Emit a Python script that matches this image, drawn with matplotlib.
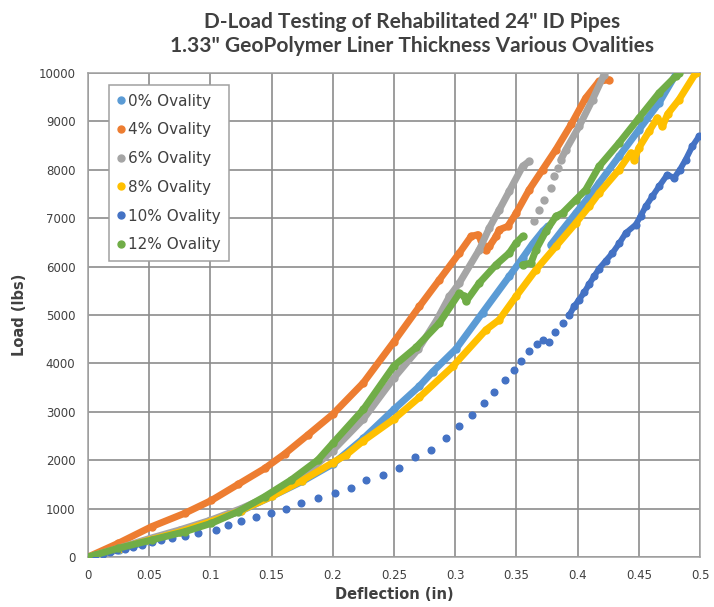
#!/usr/bin/env python3
#
# D-load test curves for rehabilitated 24" pipes, 1.33" geopolymer liner.

import matplotlib
matplotlib.use("Agg")
import matplotlib.pyplot as plt
from matplotlib.lines import Line2D
import numpy as np

nan = float("nan")

TITLE = 'D-Load Testing of Rehabilitated 24" ID Pipes'
SUBTITLE = '1.33" GeoPolymer Liner Thickness Various Ovalities'
X_LABEL = "Deflection (in)"
Y_LABEL = "Load (lbs)"

labels = ["0% Ovality", "4% Ovality", "6% Ovality", "8% Ovality",
          "10% Ovality", "12% Ovality"]
colors = ["#5B9BD5", "#ED7D31", "#A5A5A5", "#FFC000", "#4472C4", "#70AD47"]

x_ticks = [0, 0.05, 0.1, 0.15, 0.2, 0.25, 0.3, 0.35, 0.4, 0.45, 0.5]
x_tick_labels = ["0", "0.05", "0.1", "0.15", "0.2", "0.25", "0.3",
                 "0.35", "0.4", "0.45", "0.5"]
y_ticks = [0, 1000, 2000, 3000, 4000, 5000, 6000, 7000, 8000, 9000, 10000]

# nan = break in the trace (load drop / sparse readings)
ov0_x = [0, 0.025, 0.05, 0.075, 0.1, 0.125, 0.15, 0.175, 0.2, 0.225, 0.25,
         0.2708, 0.2817, 0.3007, 0.3224, 0.3442, 0.3551, 0.3632, 0.3714,
         0.3755, nan, 0.3782, 0.3877, 0.3986, 0.4095, 0.4176, 0.4339,
         0.4502, 0.4666, 0.4802]
ov0_y = [0, 150, 330, 520, 740, 950, 1250, 1560, 1920, 2450, 3050,
         3530, 3830, 4300, 5050, 5800, 6180, 6470, 6728,
         6831, nan, 6453, 6763, 7108, 7452, 7729, 8279,
         8831, 9384, 9969]

ov4_x = [0, 0.0247, 0.052, 0.0791, 0.1009, 0.1226, 0.1444, 0.1607, 0.18,
         0.2, 0.225, 0.25, 0.2708, 0.2871, 0.3034, 0.313, 0.3184, 0.3211,
         0.3252, 0.328, 0.3334, 0.336, 0.3429, 0.3497, 0.3605, 0.3714,
         0.3823, 0.395, 0.4065, 0.4174, 0.4255]
ov4_y = [0, 283, 627, 904, 1170, 1500, 1830, 2130, 2530,
         2950, 3600, 4450, 5177, 5729, 6280, 6625, 6660, 6556,
         6350, 6420, 6625, 6763, 6831, 7100, 7590, 8004,
         8418, 8950, 9480, 9827, 9861]

ov6_x = [0, 0.025, 0.05, 0.075, 0.1, 0.125, 0.15, 0.175, 0.2, 0.225, 0.25,
         0.27, 0.285, 0.2953, 0.3034, 0.3197, 0.3279, 0.3361, 0.3442,
         0.3551, 0.3605, nan, 0.3646, nan, 0.3687, nan, 0.3728, nan,
         0.3782, nan, 0.3809, nan, 0.3836, nan, 0.3864, 0.3905, 0.4013,
         0.4122, 0.4217]
ov6_y = [0, 180, 380, 560, 760, 1000, 1280, 1650, 2200, 2850, 3700,
         4300, 4900, 5384, 5661, 6350, 6800, 7177, 7560,
         8074, 8176, nan, 6950, nan, 7177, nan, 7384, nan,
         7620, nan, 7866, nan, 8039, nan, 8211, 8418, 8900,
         9452, 9969]

ov8_x = [0, 0.025, 0.05, 0.075, 0.1, 0.125, 0.15, 0.175, 0.2, 0.211, 0.225,
         0.25, 0.2708, 0.298, 0.3252, 0.336, 0.3497, 0.366, 0.3823, 0.3986,
         0.4095, 0.4176, 0.4339, 0.4435, 0.4462, 0.45, 0.4584, 0.4652,
         0.4693, 0.4735, 0.4829, 0.4965]
ov8_y = [0, 170, 350, 520, 730, 960, 1250, 1580, 1950, 2110, 2400,
         2850, 3300, 3936, 4695, 4902, 5384, 5936, 6418, 6902,
         7245, 7521, 8004, 8350, 8211, 8450, 8797, 9073,
         8900, 9150, 9452, 10000]

ov10_x = [0, 0.006, 0.012, 0.018, 0.024, 0.03, 0.037, 0.044, 0.052, 0.06,
          0.069, 0.079, 0.09, 0.105, 0.1144, 0.1253, 0.1376, 0.1498, 0.1621,
          0.1743, 0.1878, 0.2015, 0.2151, 0.2273, 0.241, 0.2545, 0.267,
          0.2803, 0.2926, 0.3034, 0.314, 0.3238, 0.332, 0.341, 0.3478,
          0.3537, 0.36, 0.3665, 0.3714, 0.3763, 0.3817, 0.3877, 0.3931,
          0.3972, 0.4013, 0.4054, 0.4095, 0.4135, 0.4176, 0.423, 0.4285,
          0.434, 0.4394, 0.4475, 0.4516, 0.4557, 0.461, 0.4666, 0.4733,
          0.4788, 0.4835, 0.4883, 0.4937, 0.4992]
ov10_y = [0, 35, 70, 105, 140, 175, 215, 255, 300, 345,
          390, 440, 490, 558, 662, 751, 834, 916, 986,
          1124, 1213, 1316, 1434, 1592, 1696, 1847, 2061,
          2220, 2455, 2700, 2937, 3178, 3406, 3661, 3868,
          4040, 4247, 4399, 4488, 4433, 4640, 4833, 4990,
          5177, 5320, 5466, 5640, 5800, 5960, 6120, 6281,
          6480, 6695, 6867, 7050, 7245, 7450, 7659, 7901,
          7832, 8000, 8211, 8486, 8693]

ov12_x = [0, 0.0247, 0.052, 0.0791, 0.1009, 0.1226, 0.1444, 0.1661, 0.1879,
          0.2, 0.225, 0.25, 0.268, 0.2871, 0.3034, 0.3075, 0.3089, 0.3197,
          0.3334, 0.3442, 0.3497, 0.3551, nan, 0.3551, 0.3619, 0.366,
          0.3741, 0.3823, 0.3877, 0.3986, 0.4067, 0.4176, 0.4339, 0.4502,
          0.4666, 0.4802, 0.483]
ov12_y = [0, 180, 352, 523, 697, 937, 1247, 1593, 2006,
          2350, 3050, 3950, 4330, 4833, 5453, 5384, 5280, 5661,
          6039, 6281, 6488, 6625, nan, 6039, 6074, 6350,
          6730, 7038, 7108, 7384, 7590, 8072, 8556, 9073,
          9590, 9935, 10000]

series_x = [ov0_x, ov4_x, ov6_x, ov8_x, ov10_x, ov12_x]
series_y = [ov0_y, ov4_y, ov6_y, ov8_y, ov10_y, ov12_y]

TEXT_COLOR = "#404040"


def main():
    plt.rcParams["font.family"] = ["DejaVu Sans"]

    fig = plt.figure(figsize=(7.14, 6.07), dpi=100)
    ax = fig.add_axes([0.1232, 0.0824, 0.8572, 0.7973])

    for i, (xs, ys) in enumerate(zip(series_x, series_y)):
        xs = np.array(xs, dtype=float)
        ys = np.array(ys, dtype=float)
        if labels[i].startswith("10%"):
            # sparse dots, dense only near the end
            ax.plot(xs, ys, linestyle="none", marker="o", ms=4.8,
                    color=colors[i], zorder=3 + i)
            dense = xs >= 0.39
            ax.plot(xs[dense], ys[dense], lw=4.2, color=colors[i],
                    solid_capstyle="round", zorder=3 + i)
        else:
            ax.plot(xs, ys, lw=5, color=colors[i], solid_capstyle="round",
                    solid_joinstyle="round", zorder=3 + i)
            ax.plot(xs, ys, linestyle="none", marker="o", ms=5,
                    color=colors[i], zorder=3 + i)

    ax.set_xlim(0, 0.5)
    ax.set_ylim(0, 10000)
    ax.set_xticks(x_ticks)
    ax.set_xticklabels(x_tick_labels)
    ax.set_yticks(y_ticks)
    ax.set_yticklabels([str(v) for v in y_ticks])
    ax.tick_params(length=0, labelsize=8.5, colors=TEXT_COLOR, pad=9)

    ax.grid(True, color="#8c8c8c", lw=1.2)
    ax.set_axisbelow(True)
    for spine in ax.spines.values():
        spine.set_color("#a0a0a0")
        spine.set_linewidth(1.1)

    ax.set_xlabel(X_LABEL, fontsize=10.5, fontweight="bold", color=TEXT_COLOR,
                  labelpad=3)
    ax.set_ylabel(Y_LABEL, fontsize=10.5, fontweight="bold", color=TEXT_COLOR,
                  labelpad=8)

    fig.text(0.577, 0.963, TITLE, ha="center", va="center", fontsize=15,
             fontweight="bold", color=TEXT_COLOR, family=["Lato", "DejaVu Sans"])
    fig.text(0.577, 0.925, SUBTITLE, ha="center", va="center",
             fontsize=15, fontweight="bold", color=TEXT_COLOR,
             family=["Lato", "DejaVu Sans"])

    handles = [Line2D([], [], linestyle="none", marker="o", ms=5, color=c)
               for c in colors]
    leg = ax.legend(handles, labels, loc="upper left",
                    bbox_to_anchor=(0.034, 0.975), fontsize=11,
                    handlelength=0.45, handletextpad=0.25, labelspacing=0.9,
                    borderpad=0.55, fancybox=False, framealpha=1,
                    edgecolor="#a0a0a0", borderaxespad=0)
    leg.get_frame().set_linewidth(1.1)
    for t in leg.get_texts():
        t.set_color(TEXT_COLOR)

    fig.savefig("out.png", dpi=100)
    plt.close(fig)


if __name__ == "__main__":
    main()
